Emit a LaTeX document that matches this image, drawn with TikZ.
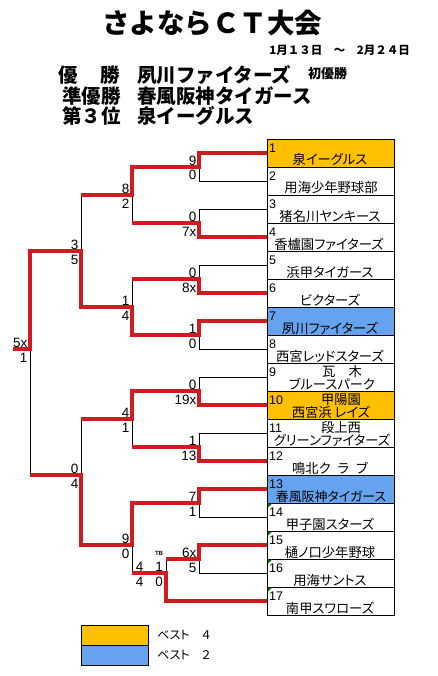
\documentclass[tikz,border=0pt]{standalone}
\usepackage{fontspec}
\setmainfont{Liberation Sans}
\newfontfamily\jp{Noto Sans CJK JP}
\newfontfamily\jpp{Noto Sans CJK JP}[RawFeature=+palt]
\definecolor{bestfour}{RGB}{255,192,0}
\definecolor{besttwo}{RGB}{102,163,238}
\definecolor{winred}{RGB}{208,28,32}
\definecolor{notegreen}{RGB}{0,110,0}
\begin{document}
\begin{tikzpicture}[x=1pt,y=-1pt,
  bline/.style={black, line width=0.9pt},
  rline/.style={winred, line width=3.2pt, line join=miter},
  rowbox/.style={draw=black, line width=0.9pt, minimum width=127pt, minimum height=28pt, inner sep=0pt, outer sep=0pt},
  sc/.style={font=\fontsize{13.5}{14}\selectfont, inner sep=0pt, anchor=base east},
  nm/.style={font=\fontsize{12.5}{13}\selectfont, inner sep=0pt, anchor=base west},
  tm/.style={font=\jpp\fontsize{13.3}{14}\selectfont, inner sep=0pt, anchor=base},
  res/.style={font=\jp\bfseries\fontsize{19.5}{20}\selectfont, inner sep=0pt, anchor=base west},
  legtxt/.style={font=\jpp\fontsize{12}{12}\selectfont, inner sep=0pt, anchor=base west}]
\useasboundingbox (0,0) rectangle (437,676);

% title block
\node[font=\jp\bfseries\fontsize{27.5}{28}\selectfont, anchor=base, inner sep=0pt] (title) at (212,33.5) {さよならＣＴ大会};
\node[font=\jp\bfseries\fontsize{11.5}{12}\selectfont, anchor=base east, inner sep=0pt] (date) at (410,55) {1月１３日　～　2月２４日};
\node[res] (r1a) at (58,82.4) {優};
\node[res, anchor=base east] (r1b) at (120,82.4) {勝};
\node[res] (r1c) at (137,82.4) {夙川ファイターズ};
\node[font=\jp\bfseries\fontsize{13}{13}\selectfont, anchor=base west, inner sep=0pt] (r1d) at (308,79) {初優勝};
\node[res] (r2a) at (62,103.4) {準優勝};
\node[res] (r2c) at (137,103.4) {春風阪神タイガース};
\node[res] (r3a) at (62,123.4) {第３位};
\node[res] (r3c) at (137,123.4) {泉イーグルス};

% team rows
\foreach \i/\c in {1/bestfour,2/white,3/white,4/white,5/white,6/white,7/besttwo,8/white,9/white,10/bestfour,11/white,12/white,13/besttwo,14/white,15/white,16/white,17/white}{
  \node[rowbox, fill=\c] (t\i) at (330.5,{125+28*\i}) {};
  \node[nm] (n\i) at (269,{124.5+28*\i}) {\i};
}
\foreach \i in {14,15,16,17}{
  \fill[notegreen] (268,{111.5+28*\i}) -- (272,{111.5+28*\i}) -- (268,{115.5+28*\i}) -- cycle;
}
\node[tm] (m1) at (330,165) {泉イーグルス};
\node[tm] (m2) at (331,193) {用海少年野球部};
\node[tm] (m3) at (330,221) {猪名川ヤンキース};
\node[tm] (m4) at (329,249) {香櫨園ファイターズ};
\node[tm] (m5) at (330,277) {浜甲タイガース};
\node[tm] (m6) at (330,305) {ビクターズ};
\node[tm] (m7) at (330,333) {夙川ファイターズ};
\node[tm] (m8) at (330,361) {西宮レッドスターズ};
\node[tm] (m9u) at (342,376) {瓦　木};
\node[tm] (m9) at (332,389) {ブルースパーク};
\node[tm] (m10u) at (341,404) {甲陽園};
\node[tm] (m10) at (331,417) {西宮浜 レイズ};
\node[tm] (m11u) at (341,432) {段上西};
\node[tm] (m11) at (332,445) {グリーンファイターズ};
\node[tm] (m12) at (330,473) {鳴北ク\hspace{7pt}ラ\hspace{7pt}ブ};
\node[tm, font=\jpp\fontsize{12.9}{13}\selectfont] (m13) at (331,501.5) {春風阪神タイガース};
\node[tm] (m14) at (330,529) {甲子園スターズ};
\node[tm] (m15) at (330,557) {樋ノ口少年野球};
\node[tm] (m16) at (330,585) {用海サントス};
\node[tm] (m17) at (330,613) {南甲スワローズ};

% bracket (black)
\foreach \i in {1,...,16} \draw[bline] (t\i.west) -- ++(-68,0);
\draw[bline] (t17.west) -- (166,601);
\foreach \a in {1,3,5,7,9,11,13}{
  \draw[bline] (199,{125+28*\a}) -- (199,{153+28*\a}) (199,{139+28*\a}) -- (132,{139+28*\a});
}
\draw[bline] (199,545) -- (199,573) (199,559) -- (166,559);
\draw[bline] (166,559) -- (166,601) (166,573) -- (132,573);
\draw[bline] (132,167) -- (132,223) (132,195) -- (81,195);
\draw[bline] (132,279) -- (132,335) (132,307) -- (81,307);
\draw[bline] (132,391) -- (132,447) (132,419) -- (81,419);
\draw[bline] (132,503) -- (132,573) (132,545) -- (81,545);
\draw[bline] (81,195) -- (81,307) (81,251) -- (30,251);
\draw[bline] (81,419) -- (81,545) (81,475) -- (30,475);
\draw[bline] (30,251) -- (30,475) (30,349) -- (13,349);

% winners (red)
\draw[rline] (t1.west) -- (199,153) -- (199,167) -- (132,167) -- (132,195) -- (81,195);
\draw[rline] (t4.west) -- (199,237) -- (199,223) -- (132,223);
\draw[rline] (t6.west) -- (199,293) -- (199,279) -- (132,279);
\draw[rline] (t7.west) -- (199,321) -- (199,335) -- (132,335) -- (132,307) -- (81,307) -- (81,251) -- (30,251) -- (30,349) -- (13,349);
\draw[rline] (t10.west) -- (199,405) -- (199,391) -- (132,391) -- (132,419) -- (81,419);
\draw[rline] (t12.west) -- (199,461) -- (199,447) -- (132,447);
\draw[rline] (t13.west) -- (199,489) -- (199,503) -- (132,503) -- (132,545) -- (81,545) -- (81,475) -- (30,475);
\draw[rline] (t15.west) -- (199,545) -- (199,559) -- (166,559);
\draw[rline] (t17.west) -- (166,601) -- (166,573) -- (132,573);

% scores
\foreach \x/\y/\p/\q [count=\k] in {199/167/9/0, 199/223/0/7x, 199/279/0/8x, 199/335/1/0, 199/391/0/19x, 199/447/1/13, 199/503/7/1, 199/559/6x/5, 132/195/8/2, 132/307/1/4, 132/419/4/1, 132/545/9/0, 165.5/573/1/0, 146/573/4/4, 81/251/3/5, 81/475/0/4, 30/349/5x/1}{
  \node[sc] (sa\k) at ({\x-2.5},{\y-1.8}) {\p};
  \node[sc] (sb\k) at ({\x-2.5},{\y+13}) {\q};
}
\node[font=\bfseries\fontsize{6}{6}\selectfont, inner sep=0pt] (tb) at (159,553) {TB};

% legend
\node[draw=black, line width=0.9pt, fill=bestfour, minimum width=67pt, minimum height=20pt, inner sep=0pt] (lg4) at (114.5,635) {};
\node[draw=black, line width=0.9pt, fill=besttwo, minimum width=67pt, minimum height=20pt, inner sep=0pt] (lg2) at (114.5,655) {};
\node[legtxt] (lt4) at (157,639.5) {ベスト　４};
\node[legtxt] (lt2) at (157,659.5) {ベスト　２};
\end{tikzpicture}
\end{document}
